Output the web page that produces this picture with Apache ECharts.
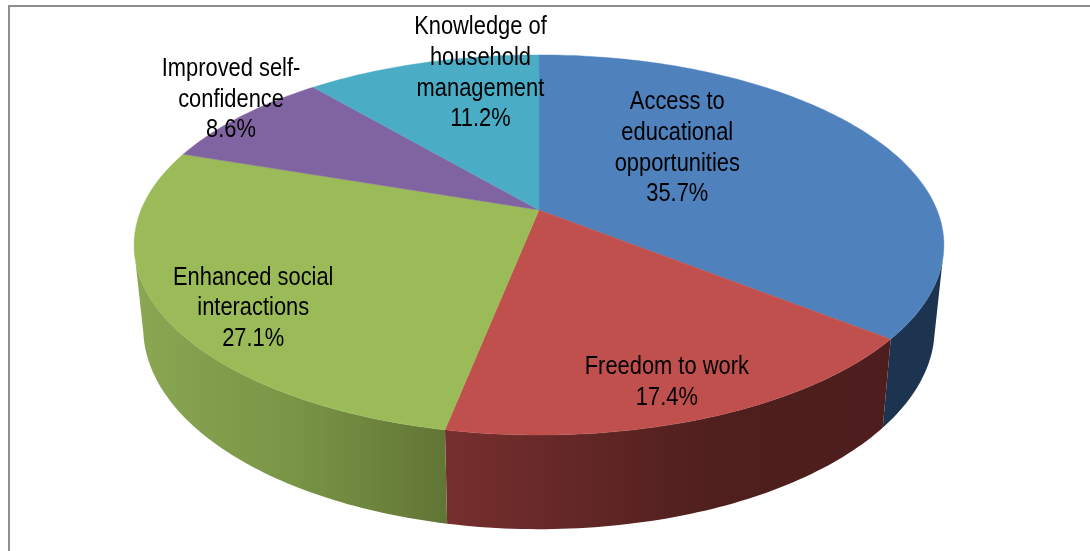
<!DOCTYPE html>
<html>
<head>
<meta charset="utf-8">
<style>html,body{margin:0;padding:0;background:#fff}#c{width:1090px;height:551px}</style>
<script src="https://cdn.jsdelivr.net/npm/echarts@6/dist/echarts.min.js"></script>
</head>
<body>
<div id="c"></div>
<script>
const categories = [
  'Access to\neducational\nopportunities',
  'Freedom to work',
  'Enhanced social\ninteractions',
  'Improved self-\nconfidence',
  'Knowledge of\nhousehold\nmanagement'
];
const shares = [35.7, 17.4, 27.1, 8.6, 11.2];

const topColors = ['#4f81bd', '#c0504d', '#9bbb59', '#8064a2', '#4bacc6'];
const wallStops = [
  [[0, '#1c344f'], [1, '#1c344f']],
  [[0, '#762f2e'], [0.6, '#4f1f1e'], [1, '#4d1e1d']],
  [[0, '#8aa753'], [0.5, '#7a9546'], [1, '#617535']],
  null,
  null
];
const labelOffsets = [[-67, -16], [36, 57], [-67, 40], [-122, -52], [16, -43]];

// perspective projection of the pie's unit circle
const CX = 539, TILT = -0.184;
const topPlane = { rx: 398, cy: 210, ky: 145 };
const basePlane = { rx: 389, cy: 291, ky: 140.8 };
const VIS_FROM = 105, VIS_TO = 258; // degrees clockwise from 12 o'clock: visible wall range

function project(plane, r, deg) {
  const a = deg * Math.PI / 180;
  const x = r * Math.sin(a), y = -r * Math.cos(a);
  const den = 1 + TILT * y;
  return [CX + plane.rx * x / den, (plane.cy + plane.ky * y) / den];
}
function sliceRange(i) {
  const total = shares.reduce((s, v) => s + v, 0);
  let before = 0;
  for (let k = 0; k < i; k++) before += shares[k];
  return [before / total * 360, (before + shares[i]) / total * 360];
}
function arc(plane, from, to) {
  const n = Math.max(2, Math.ceil(Math.abs(to - from)));
  const pts = [];
  for (let k = 0; k <= n; k++) pts.push(project(plane, 1, from + (to - from) * k / n));
  return pts;
}

const seriesData = shares.map((v, i) => ({ name: categories[i], value: v }));

function renderWall(params) {
  const i = params.dataIndex;
  if (!wallStops[i]) return { type: 'group', children: [] };
  const [a0, a1] = sliceRange(i);
  const from = Math.max(a0, VIS_FROM), to = Math.min(a1, VIS_TO);
  if (to <= from) return { type: 'group', children: [] };
  const points = arc(topPlane, from, to).concat(arc(basePlane, to, from));
  return {
    type: 'polygon',
    shape: { points },
    style: {
      fill: new echarts.graphic.LinearGradient(0, 0, 1, 0,
        wallStops[i].map(s => ({ offset: s[0], color: s[1] })))
    }
  };
}
function renderTop(params) {
  const i = params.dataIndex;
  const [a0, a1] = sliceRange(i);
  const points = [project(topPlane, 0, 0)].concat(arc(topPlane, a0, a1));
  return {
    type: 'polygon',
    shape: { points },
    style: { fill: topColors[i], stroke: topColors[i], lineWidth: 0.4 }
  };
}
function renderLabel(params, api) {
  const i = params.dataIndex;
  const [a0, a1] = sliceRange(i);
  const p = project(topPlane, 0.6, (a0 + a1) / 2);
  return {
    type: 'text',
    x: p[0] + labelOffsets[i][0],
    y: p[1] + labelOffsets[i][1],
    scaleX: 0.875,
    style: {
      text: categories[i] + '\n' + api.value(0).toFixed(1) + '%',
      x: 0, y: 0,
      fontFamily: '"Liberation Sans", Arial, sans-serif',
      fontSize: 25,
      lineHeight: 30.7,
      align: 'center',
      verticalAlign: 'middle',
      fill: '#000'
    }
  };
}

const chart = echarts.init(document.getElementById('c'), null, { renderer: 'canvas' });
chart.setOption({
  animation: false,
  backgroundColor: '#fff',
  graphic: [{
    type: 'polyline',
    silent: true,
    shape: { points: [[9, 551], [9, 6], [1090, 6]] },
    style: { stroke: '#8e8e8e', lineWidth: 2, fill: null }
  }],
  series: [
    { type: 'custom', coordinateSystem: 'none', z: 1, silent: true, renderItem: renderWall, data: seriesData },
    { type: 'custom', coordinateSystem: 'none', z: 2, silent: true, renderItem: renderTop, data: seriesData },
    { type: 'custom', coordinateSystem: 'none', z: 3, silent: true, renderItem: renderLabel, data: seriesData }
  ]
});
</script>
</body>
</html>
